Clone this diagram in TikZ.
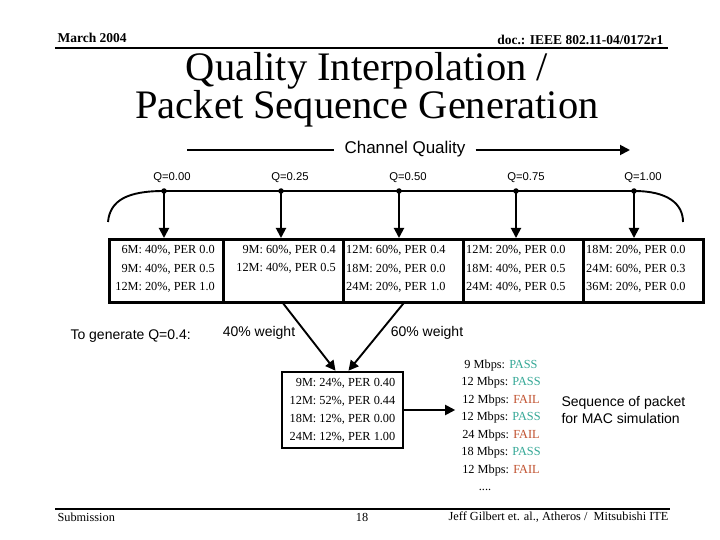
\documentclass[tikz,border=0pt]{standalone}
\usepackage{fontspec}
\setmainfont{Liberation Serif}
\setsansfont{Liberation Sans}
\usetikzlibrary{arrows.meta,calc}
\definecolor{passc}{RGB}{52,168,150}
\definecolor{failc}{RGB}{192,80,45}
\newcommand{\myfs}[2]{\fontsize{#1}{#2}\selectfont}
\begin{document}
\begin{tikzpicture}[x=1pt,y=-1pt,
  arr/.style={line width=1.9pt,-{Triangle[length=10pt,width=10pt]}},
  hrule/.style={line width=2.2pt},
  cellbox/.style={draw,line width=2.6pt,minimum height=63pt,anchor=north west,inner sep=0pt},
  celltext/.style={inner sep=0pt,font=\myfs{12.3}{18.5}},
  qlab/.style={font=\sffamily\myfs{11.3}{13}},
  qdot/.style={circle,fill,inner sep=0pt,minimum size=5.5pt},
  sanslab/.style={font=\sffamily\myfs{14}{16.5}},
  foot/.style={font=\myfs{12.3}{14}},
  head/.style={font=\bfseries\myfs{13.5}{15}}]
\fill[white] (0,0) rectangle (720,540);
\useasboundingbox (0,0) rectangle (720,540);

% header
\node[head,anchor=west] (march) at (54,38) {March 2004};
\node[head,anchor=east] (doc) at (667,40) {doc.: IEEE 802.11-04/0172r1};
\coordinate (tl1) at (55,48);
\coordinate (tl2) at (668,48);
\draw[hrule] (tl1) -- (tl2);

% title
\node[align=center,font=\myfs{40.5}{38}] (title) at (367,90) {Quality Interpolation /\\Packet Sequence Generation};

% channel quality arrow
\node[font=\sffamily\myfs{17}{19},inner xsep=10pt] (cq) at (405,149) {Channel Quality};
\coordinate (cqL) at (187,150);
\coordinate (cqR) at (630,150);
\draw[line width=1.9pt] (cqL) -- (cqL -| cq.west);
\draw[arr] (cqR -| cq.east) -- (cqR);

% Q labels and dots
\node[qlab] (q0) at (172,178) {Q=0.00};
\node[qlab] (q1) at (290,178) {Q=0.25};
\node[qlab] (q2) at (408,178) {Q=0.50};
\node[qlab] (q3) at (526,178) {Q=0.75};
\node[qlab] (q4) at (643,178) {Q=1.00};
\node[qdot] (d0) at (164,191) {};
\node[qdot] (d1) at (281,191) {};
\node[qdot] (d2) at (399,191) {};
\node[qdot] (d3) at (516,191) {};
\node[qdot] (d4) at (634,191) {};
\coordinate (aL) at (108,222);
\coordinate (aR) at (683,222);
\draw[line width=1.9pt] (aL) .. controls (110,200) and (128,191) .. (d0.center) -- (d4.center) .. controls (668,191) and (683,204) .. (aR);

% table cells
\node[cellbox,minimum width=114pt] (b0) at (108,238) {};
\node[cellbox,minimum width=120pt] (b1) at (222,238) {};
\node[cellbox,minimum width=120pt] (b2) at (342,238) {};
\node[cellbox,minimum width=120pt] (b3) at (462,238) {};
\node[cellbox,minimum width=120pt] (b4) at (582,238) {};

\foreach \i in {0,...,4} {\draw[arr] (d\i.center) -- (d\i |- b\i.north);}

\node[celltext,align=right,anchor=east] (t0) at (215,269) {6M: 40\%, PER 0.0\\9M: 40\%, PER 0.5\\12M: 20\%, PER 1.0};
\node[celltext,align=right,anchor=north east] (t1) at (336,245) {9M: 60\%, PER 0.4\\12M: 40\%, PER 0.5};
\node[celltext,align=left,anchor=west] (t2) at (346,269) {12M: 60\%, PER 0.4\\18M: 20\%, PER 0.0\\24M: 20\%, PER 1.0};
\node[celltext,align=left,anchor=west] (t3) at (466,269) {12M: 20\%, PER 0.0\\18M: 40\%, PER 0.5\\24M: 40\%, PER 0.5};
\node[celltext,align=left,anchor=west] (t4) at (586,269) {18M: 20\%, PER 0.0\\24M: 60\%, PER 0.3\\36M: 20\%, PER 0.0};

% interpolation
\node[sanslab,anchor=west] (gen) at (67,336) {To generate Q=0.4:};
\node[sanslab] (w40) at (259,333) {40\% weight};
\node[sanslab] (w60) at (427,333) {60\% weight};

\node[draw,line width=2.6pt,minimum width=121pt,minimum height=76pt,inner xsep=7pt,align=right,font=\myfs{12.3}{18}] (res) at (342.5,410)
  {9M: 24\%, PER 0.40\\12M: 52\%, PER 0.44\\18M: 12\%, PER 0.00\\24M: 12\%, PER 1.00};
\draw[arr] (b1.south) -- ($(res.north)+(-7,0)$);
\draw[arr] (b2.south) -- ($(res.north)+(6,0)$);

\node[align=center,font=\myfs{12.3}{17.5},inner xsep=6pt] (seq) at (501,425.5)
  {9 Mbps: \textcolor{passc}{PASS}\\
   12 Mbps: \textcolor{passc}{PASS}\\
   12 Mbps: \textcolor{failc}{FAIL}\\
   12 Mbps: \textcolor{passc}{PASS}\\
   24 Mbps: \textcolor{failc}{FAIL}\\
   18 Mbps: \textcolor{passc}{PASS}\\
   12 Mbps: \textcolor{failc}{FAIL}\\
   ....\rule{32pt}{0pt}};
\draw[arr] (res.east) -- (res.east -| seq.west);

\node[sanslab,anchor=west,align=left] (mac) at (558,410) {Sequence of packet\\for MAC simulation};

% footer
\coordinate (fl1) at (55,509);
\coordinate (fl2) at (670,509);
\draw[hrule] (fl1) -- (fl2);
\node[foot,anchor=west] (sub) at (54,517) {Submission};
\node[foot] (pg) at (362,517) {18};
\node[foot,anchor=east] (auth) at (672,517) {Jeff Gilbert et. al., Atheros /\ \ Mitsubishi ITE};
\end{tikzpicture}
\end{document}
